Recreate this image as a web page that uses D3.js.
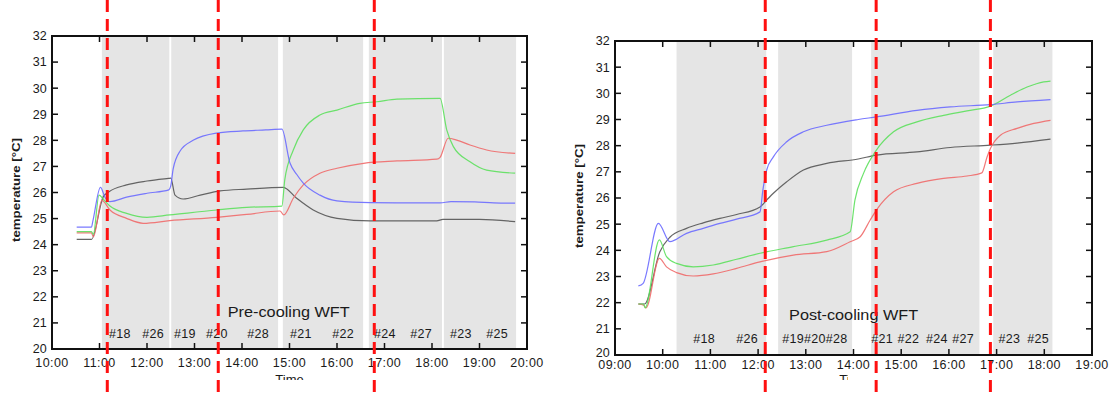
<!DOCTYPE html>
<html><head><meta charset="utf-8">
<script src="https://cdn.jsdelivr.net/npm/d3@7"></script>
<style>body{margin:0;background:#fff}svg{display:block}text{font-family:"Liberation Sans",Arial,sans-serif;fill:#1a1a1a}</style>
</head><body>
<script>
// ---------- DATA (time in decimal hours, temperature in °C) ----------
const yTicks = [20,21,22,23,24,25,26,27,28,29,30,31,32];
const leftHours = [10,11,12,13,14,15,16,17,18,19,20];
const rightHours = [9,10,11,12,13,14,15,16,17,18,19];

const leftShade = [[11.05,12.47],[12.51,14.76],[14.86,16.55],[16.67,18.21],[18.25,19.77]];
const rightShade = [[10.29,12.17],[12.42,13.97],[14.37,16.64],[16.93,18.17]];

const leftMarks = [11.164, 13.50, 16.785];
const rightMarks = [12.15, 14.475, 16.87];

const leftTags = ["#18","#26","#19","#20","#28","#21","#22","#24","#27","#23","#25"];
const leftTagTimes = [11.43,12.13,12.8,13.47,14.34,15.24,16.13,17.01,17.77,18.61,19.37];
const rightTags = ["#18","#26","#19#20#28","#21","#22","#24","#27","#23","#25"];
const rightTagTimes = [10.87,11.77,13.19,14.6,15.15,15.75,16.3,17.27,17.87];

const leftBlue = [[10.52,24.67],[10.83,24.67],[10.86,24.9],[11.02,26.2],[11.12,25.8],[11.22,25.65],[11.57,25.82],[12.0,25.97],[12.46,26.1],[12.5,26.25],[12.55,26.9],[12.7,27.6],[12.97,28.0],[13.47,28.28],[14.02,28.36],[14.5,28.4],[14.84,28.43],[15.01,27.13],[15.15,26.7],[15.29,26.36],[15.64,25.9],[16.0,25.68],[16.7,25.61],[17.5,25.6],[18.17,25.6],[18.4,25.65],[18.9,25.64],[19.3,25.6],[19.75,25.59]];
const leftBlack = [[10.52,24.2],[10.83,24.2],[11.08,25.84],[11.2,26.03],[11.57,26.29],[12.0,26.44],[12.45,26.54],[12.5,26.55],[12.59,25.9],[12.76,25.75],[13.12,25.9],[13.54,26.06],[14.1,26.13],[14.87,26.2],[15.15,25.78],[15.5,25.33],[16.0,25.01],[16.7,24.91],[18.1,24.91],[18.23,24.97],[19.0,24.97],[19.75,24.88]];
const leftGreen = [[10.52,24.5],[10.83,24.5],[10.87,24.4],[10.99,25.9],[11.1,25.7],[11.22,25.48],[11.57,25.2],[12.0,25.05],[12.48,25.14],[13.47,25.33],[14.1,25.43],[14.84,25.48],[14.9,26.48],[15.08,27.63],[15.29,28.4],[15.64,28.97],[16.0,29.16],[16.48,29.42],[16.84,29.48],[17.26,29.58],[18.17,29.61],[18.31,28.4],[18.45,27.76],[18.8,27.18],[19.15,26.86],[19.75,26.74]];
const leftRed = [[10.52,24.45],[10.83,24.45],[10.87,24.3],[11.05,25.7],[11.22,25.33],[11.57,25.01],[11.92,24.82],[12.48,24.92],[13.47,25.05],[14.1,25.16],[14.8,25.29],[14.88,25.14],[15.08,25.78],[15.29,26.29],[15.64,26.74],[16.0,26.93],[16.56,27.12],[17.26,27.21],[18.1,27.28],[18.17,27.35],[18.34,28.08],[18.52,28.01],[18.8,27.82],[19.15,27.63],[19.75,27.5]];

const rightBlue = [[9.49,22.64],[9.59,22.74],[9.91,25.03],[10.15,24.33],[10.5,24.65],[10.85,24.84],[11.2,25.03],[11.55,25.19],[12.04,25.47],[12.1,26.3],[12.18,27.07],[12.32,27.57],[12.6,28.15],[12.95,28.53],[13.44,28.78],[14.1,29.0],[14.48,29.1],[15.33,29.35],[16.03,29.48],[16.87,29.57],[17.43,29.67],[18.13,29.76]];
const rightBlack = [[9.49,21.95],[9.62,21.95],[9.94,23.95],[10.15,24.5],[10.5,24.84],[10.85,25.05],[11.2,25.22],[11.55,25.37],[12.04,25.66],[12.18,25.92],[12.32,26.18],[12.6,26.62],[12.95,27.07],[13.44,27.32],[14.1,27.49],[14.48,27.64],[15.33,27.76],[16.03,27.93],[16.87,28.02],[17.43,28.1],[18.13,28.25]];
const rightGreen = [[9.49,21.95],[9.6,21.95],[9.63,21.8],[9.93,24.4],[10.08,23.76],[10.29,23.5],[10.64,23.37],[11.06,23.44],[11.55,23.66],[12.04,23.89],[12.74,24.14],[13.44,24.39],[13.93,24.71],[14.03,25.92],[14.21,26.94],[14.48,27.83],[14.84,28.53],[15.33,28.91],[15.89,29.16],[16.38,29.33],[16.87,29.51],[17.29,29.93],[17.64,30.24],[17.99,30.44],[18.13,30.47]];
const rightRed = [[9.49,21.95],[9.6,21.9],[9.65,21.8],[9.93,23.69],[10.08,23.37],[10.29,23.15],[10.64,23.02],[11.06,23.1],[11.55,23.31],[12.04,23.56],[12.74,23.82],[13.44,23.95],[13.93,24.33],[14.14,24.52],[14.35,25.16],[14.48,25.54],[14.84,26.24],[15.33,26.56],[15.89,26.75],[16.38,26.84],[16.69,26.96],[16.8,27.57],[16.87,27.89],[17.08,28.4],[17.43,28.66],[17.78,28.85],[18.13,28.97]];

// ---------- DRAWING ----------
const W = 1109, H = 401;
const svg = d3.select("body").append("svg").attr("width", W).attr("height", H);
const defs = svg.append("defs");

function panel(o) {
  const x = d3.scaleLinear().domain(o.xDomain).range(o.xRange);
  const y = d3.scaleLinear().domain([20, 32]).range(o.yRange);
  const g = svg.append("g");
  const [x0, x1] = o.xRange, [yb, yt] = o.yRange;

  g.selectAll("rect.shade").data(o.shade).join("rect")
    .attr("x", d => x(d[0])).attr("width", d => x(d[1]) - x(d[0]))
    .attr("y", yt).attr("height", yb - yt).attr("fill", "#e5e5e5");

  const line = d3.line().x(d => x(d[0])).y(d => y(d[1])).curve(d3.curveMonotoneX);
  o.series.forEach(s => {
    g.append("path").datum(s.data).attr("d", line).attr("fill", "none")
      .attr("stroke", s.color).attr("stroke-width", 1.2).attr("stroke-opacity", 0.9);
  });

  g.append("rect").attr("x", x0).attr("y", yt).attr("width", x1 - x0).attr("height", yb - yt)
    .attr("fill", "none").attr("stroke", "#111").attr("stroke-width", 2);

  const fmt = h => String(h % 24).padStart(2, "0") + ":00";
  const tl = 6;
  const ax = g.append("g").attr("stroke", "#111").attr("stroke-width", 1.5);
  o.hours.forEach(h => {
    ax.append("line").attr("x1", x(h)).attr("x2", x(h)).attr("y1", yb).attr("y2", yb - tl);
    ax.append("line").attr("x1", x(h)).attr("x2", x(h)).attr("y1", yt).attr("y2", yt + tl);
  });
  yTicks.forEach(t => {
    ax.append("line").attr("x1", x0).attr("x2", x0 + tl).attr("y1", y(t)).attr("y2", y(t));
    ax.append("line").attr("x1", x1).attr("x2", x1 - tl).attr("y1", y(t)).attr("y2", y(t));
  });
  g.selectAll("text.xt").data(o.hours).join("text")
    .attr("x", d => x(d)).attr("y", yb + o.xLabelDy).attr("text-anchor", "middle")
    .attr("font-size", 12.5).attr("letter-spacing", 0.4).text(fmt);
  g.selectAll("text.yt").data(yTicks).join("text")
    .attr("x", x0 - 5).attr("y", d => y(d) - o.yLabelLift(d)).attr("dy", "0.35em").attr("text-anchor", "end")
    .attr("font-size", 12.5).attr("letter-spacing", 0.2).text(d => d);

  g.append("text").attr("transform", `translate(${o.yLabelX},${o.yLabelY}) rotate(-90)`)
    .attr("text-anchor", "middle").attr("font-size", 11.5).attr("font-weight", "bold")
    .attr("textLength", 104).attr("lengthAdjust", "spacingAndGlyphs").text("temperature [°C]");

  // x label, cropped at the bottom as in the original
  const cid = "clip" + o.id;
  defs.append("clipPath").attr("id", cid).append("rect")
    .attr("x", o.timeClip[0]).attr("y", 0).attr("width", o.timeClip[1] - o.timeClip[0]).attr("height", 380);
  g.append("text").attr("clip-path", `url(#${cid})`).attr("x", (x0 + x1) / 2).attr("y", 384)
    .attr("text-anchor", "middle").attr("font-size", 13).text("Time");

  g.selectAll("text.tag").data(o.tags).join("text")
    .attr("x", (d, i) => x(o.tagTimes[i])).attr("y", y(o.tagY)).attr("text-anchor", "middle")
    .attr("font-size", 12.5).attr("letter-spacing", 0.3).text(d => d);
  g.append("text").attr("x", x(o.title[1])).attr("y", y(o.title[2])).attr("font-size", 15)
    .attr("textLength", o.title[3]).attr("lengthAdjust", "spacingAndGlyphs").text(o.title[0]);

  return x;
}

const lx = panel({
  id: "L", xDomain: [10, 20], xRange: [52, 527], yRange: [349, 36], hours: leftHours,
  shade: leftShade, xLabelDy: 18, yLabelX: 20, yLabelY: 190, timeClip: [0, 560],
  yLabelLift: d => 0,
  tags: leftTags, tagTimes: leftTagTimes, tagY: 20.42,
  title: ["Pre-cooling WFT", 13.7, 21.23, 122],
  series: [
    {data: leftBlack, color: "#555555"},
    {data: leftRed, color: "#f06a6a"},
    {data: leftGreen, color: "#5de05d"},
    {data: leftBlue, color: "#6a6aff"}
  ]
});
const rx = panel({
  id: "R", xDomain: [9, 19], xRange: [615, 1092], yRange: [355, 41], hours: rightHours,
  shade: rightShade, xLabelDy: 14, yLabelX: 583, yLabelY: 196, timeClip: [560, 848],
  yLabelLift: d => d === 20 ? 2 : 0,
  tags: rightTags, tagTimes: rightTagTimes, tagY: 20.46,
  title: ["Post-cooling WFT", 12.65, 21.34, 129],
  series: [
    {data: rightBlack, color: "#555555"},
    {data: rightRed, color: "#f06a6a"},
    {data: rightGreen, color: "#5de05d"},
    {data: rightBlue, color: "#6a6aff"}
  ]
});

// red dashed markers overlaid across the whole image height
const mk = svg.append("g").attr("stroke", "#ff1010").attr("stroke-width", 3).attr("stroke-dasharray", "12,7");
leftMarks.forEach(t => mk.append("line").attr("x1", lx(t)).attr("x2", lx(t)).attr("y1", 0).attr("y2", 395));
rightMarks.forEach(t => mk.append("line").attr("x1", rx(t)).attr("x2", rx(t)).attr("y1", 0).attr("y2", 395));
</script>
</body></html>
